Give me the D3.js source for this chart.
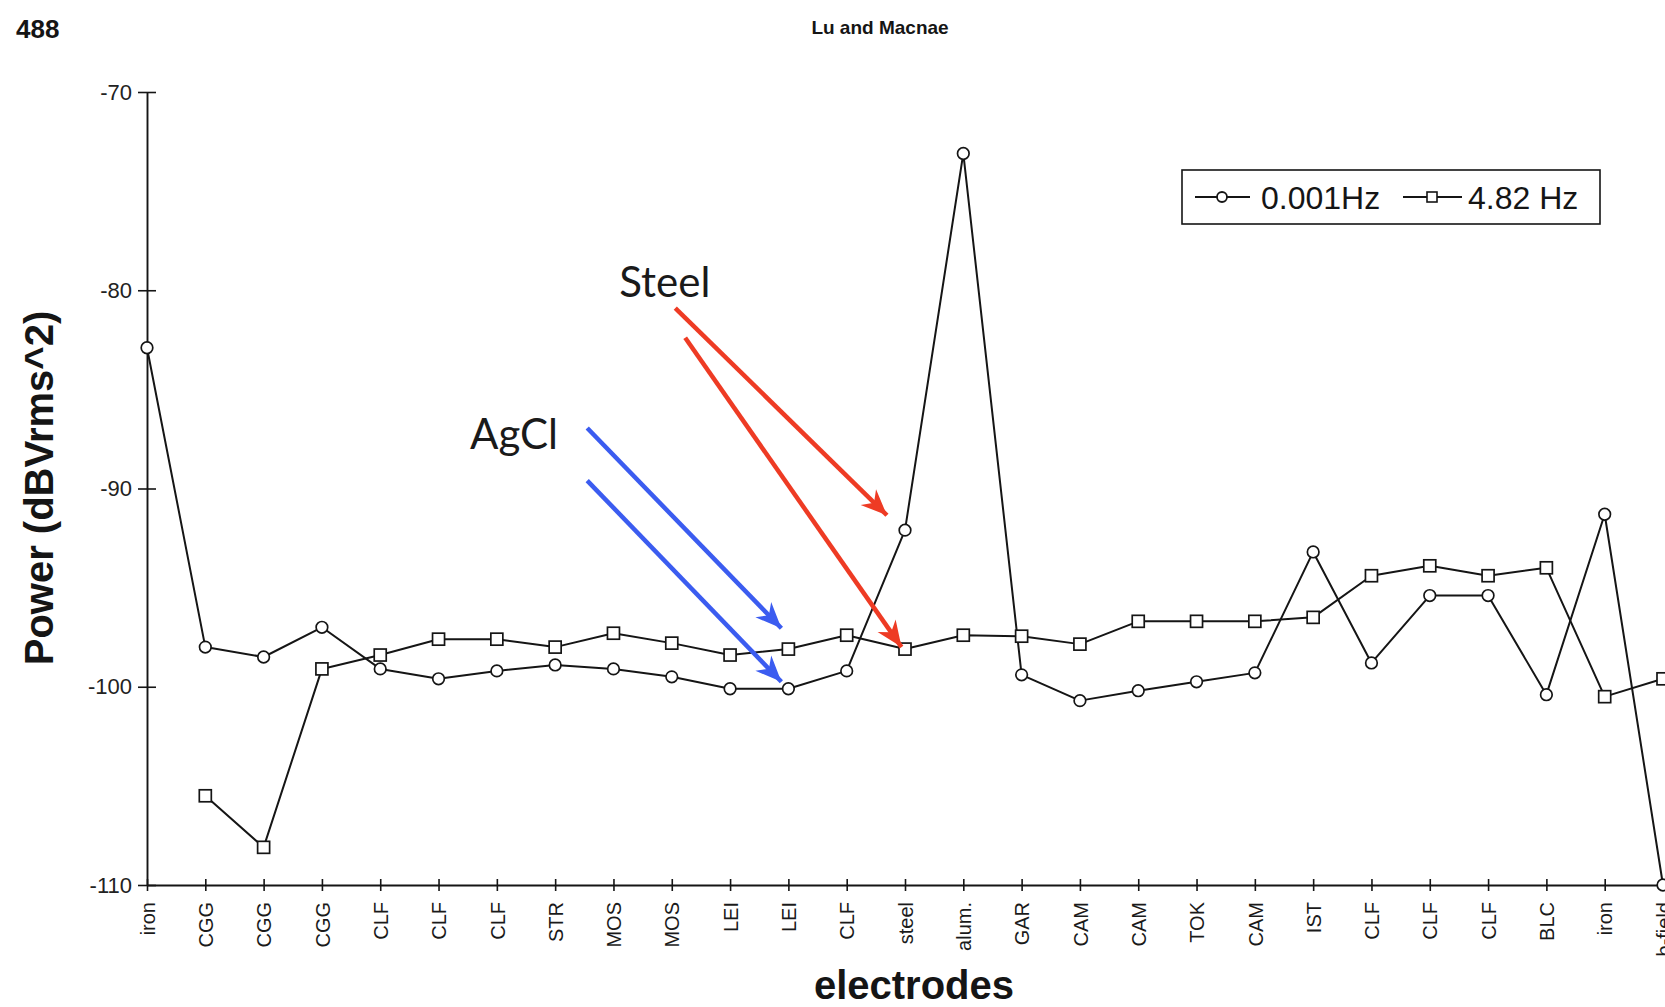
<!DOCTYPE html>
<html><head><meta charset="utf-8">
<script src="https://cdn.jsdelivr.net/npm/d3@7"></script>
<style>body{margin:0;background:#fff;}svg{display:block;}</style>
</head><body>
<svg id="c" width="1665" height="1007"></svg>
<script>
// ---------- data ----------
const categories = ["iron","CGG","CGG","CGG","CLF","CLF","CLF","STR","MOS","MOS","LEI","LEI","CLF","steel","alum.","GAR","CAM","CAM","TOK","CAM","IST","CLF","CLF","CLF","BLC","iron","b-field"];
const power001Hz = [-82.9,-98.0,-98.5,-97.0,-99.1,-99.6,-99.2,-98.9,-99.1,-99.5,-100.1,-100.1,-99.2,-92.1,-73.1,-99.4,-100.7,-100.2,-99.75,-99.3,-93.2,-98.8,-95.4,-95.4,-100.4,-91.3,-110.0];
const power482Hz = [null,-105.5,-108.1,-99.1,-98.4,-97.6,-97.6,-98.0,-97.3,-97.8,-98.4,-98.1,-97.4,-98.1,-97.4,-97.45,-97.85,-96.7,-96.7,-96.7,-96.5,-94.4,-93.9,-94.4,-94.0,-100.5,-99.6];
const seriesNames = ["0.001Hz","4.82 Hz"];
const yTicks = [-70,-80,-90,-100,-110];
const yDomain = [-110,-70];
// annotation labels (position in category-index / dB units)
const annoLabels = [{text:"Steel", i:8.10, v:-80.35},{text:"AgCl", i:5.54, v:-88.0}];
const annoArrows = [
  {color:"#ee3b24", i0:9.06, v0:-80.9, i1:12.69, v1:-91.35},
  {color:"#ee3b24", i0:9.23, v0:-82.4, i1:12.94, v1:-98.0},
  {color:"#3b5cf0", i0:7.55, v0:-86.95, i1:10.88, v1:-97.05},
  {color:"#3b5cf0", i0:7.55, v0:-89.6, i1:10.88, v1:-99.75}
];

// ---------- layout ----------
const svg = d3.select("#c");
svg.append("rect").attr("width",1665).attr("height",1007).attr("fill","#fff");
const ink = "#151515";
const x = d3.scaleLinear().domain([0, categories.length-1]).range([147, 1663]);
const y = d3.scaleLinear().domain(yDomain).range([885, 92]);

// header
svg.append("text").attr("x",16).attr("y",38).text("488")
  .attr("font-family","Liberation Sans, Arial, sans-serif").attr("font-weight","bold").attr("font-size",26).attr("fill",ink);
svg.append("text").attr("x",880).attr("y",34).attr("text-anchor","middle").text("Lu and Macnae")
  .attr("font-family","Liberation Sans, Arial, sans-serif").attr("font-weight","bold").attr("font-size",19).attr("fill",ink);

// y axis
const gy = svg.append("g").attr("transform",`translate(${x(0)},0)`)
  .call(d3.axisLeft(y).tickValues(yTicks).tickFormat(d=>String(d)).tickSize(9).tickSizeOuter(0).tickPadding(6));
gy.selectAll(".tick line").attr("x1",9).attr("stroke",ink).attr("stroke-width",1.6);
gy.select(".domain").attr("stroke",ink).attr("stroke-width",1.9);
gy.selectAll(".tick text").attr("font-family","Liberation Sans, Arial, sans-serif").attr("font-size",22).attr("fill","#222");

// x axis
const gx = svg.append("g").attr("transform",`translate(0,${y(-110)})`)
  .call(d3.axisBottom(x).tickValues(d3.range(categories.length)).tickFormat(i=>categories[i]).tickSize(6).tickSizeOuter(0));
gx.selectAll(".tick line").attr("y1",-6).attr("stroke",ink).attr("stroke-width",1.6);
gx.select(".domain").attr("stroke",ink).attr("stroke-width",1.9);
gx.selectAll(".tick text")
  .attr("transform","rotate(-90)").attr("text-anchor","end").attr("x",-17).attr("y",0).attr("dy","0.36em")
  .attr("font-family","Liberation Sans, Arial, sans-serif").attr("font-size",20).attr("fill","#1a1a1a");

// axis titles
svg.append("text").attr("transform",`translate(53,488) rotate(-90)`).attr("text-anchor","middle")
  .text("Power (dBVrms^2)").attr("font-family","Liberation Sans, Arial, sans-serif").attr("font-weight","bold").attr("font-size",40).attr("fill",ink);
svg.append("text").attr("x",914).attr("y",999).attr("text-anchor","middle")
  .text("electrodes").attr("font-family","Liberation Sans, Arial, sans-serif").attr("font-weight","bold").attr("font-size",40).attr("fill",ink);

// lines
const line = d3.line().defined(d=>d!=null).x((d,i)=>x(i)).y(d=>y(d));
[power001Hz, power482Hz].forEach(s=>{
  svg.append("path").datum(s).attr("d",line).attr("fill","none").attr("stroke",ink).attr("stroke-width",2).attr("stroke-linejoin","round");
});
// markers
svg.append("g").selectAll("circle").data(power001Hz.map((v,i)=>({v,i})).filter(d=>d.v!=null)).join("circle")
  .attr("cx",d=>x(d.i)).attr("cy",d=>y(d.v)).attr("r",5.8).attr("fill","#fff").attr("stroke",ink).attr("stroke-width",1.7);
svg.append("g").selectAll("rect").data(power482Hz.map((v,i)=>({v,i})).filter(d=>d.v!=null)).join("rect")
  .attr("x",d=>x(d.i)-6).attr("y",d=>y(d.v)-6).attr("width",12).attr("height",12).attr("fill","#fff").attr("stroke",ink).attr("stroke-width",1.7);

// legend
const lg = svg.append("g");
lg.append("rect").attr("x",1182).attr("y",170).attr("width",418).attr("height",54).attr("fill","#fff").attr("stroke",ink).attr("stroke-width",1.6);
lg.append("line").attr("x1",1195).attr("x2",1250).attr("y1",197).attr("y2",197).attr("stroke",ink).attr("stroke-width",2);
lg.append("circle").attr("cx",1222).attr("cy",197).attr("r",5).attr("fill","#fff").attr("stroke",ink).attr("stroke-width",1.8);
lg.append("text").attr("x",1261).attr("y",209).text(seriesNames[0]).attr("font-family","Liberation Sans, Arial, sans-serif").attr("font-size",32).attr("fill",ink);
lg.append("line").attr("x1",1403).attr("x2",1462).attr("y1",197).attr("y2",197).attr("stroke",ink).attr("stroke-width",2);
lg.append("rect").attr("x",1427).attr("y",192).attr("width",10).attr("height",10).attr("fill","#fff").attr("stroke",ink).attr("stroke-width",1.6);
lg.append("text").attr("x",1468).attr("y",209).text(seriesNames[1]).attr("font-family","Liberation Sans, Arial, sans-serif").attr("font-size",32).attr("fill",ink);

// annotations
const defs = svg.append("defs");
annoArrows.forEach((a,k)=>{
  defs.append("marker").attr("id","ah"+k).attr("markerUnits","userSpaceOnUse").attr("markerWidth",32).attr("markerHeight",32)
    .attr("viewBox","-28 -13 32 26").attr("refX",0).attr("refY",0).attr("orient","auto")
    .append("path").attr("d","M0,0 L-26,-11 L-18,0 L-26,11 Z").attr("fill",a.color);
  svg.append("line").attr("x1",x(a.i0)).attr("y1",y(a.v0)).attr("x2",x(a.i1)).attr("y2",y(a.v1))
    .attr("stroke",a.color).attr("stroke-width",4.5).attr("marker-end",`url(#ah${k})`);
});
annoLabels.forEach(t=>{
  svg.append("text").attr("x",x(t.i)).attr("y",y(t.v)).text(t.text)
    .attr("font-family","Lato, 'Open Sans', sans-serif").attr("font-size",42).attr("fill","#1a1a1a");
});
</script>
</body></html>
